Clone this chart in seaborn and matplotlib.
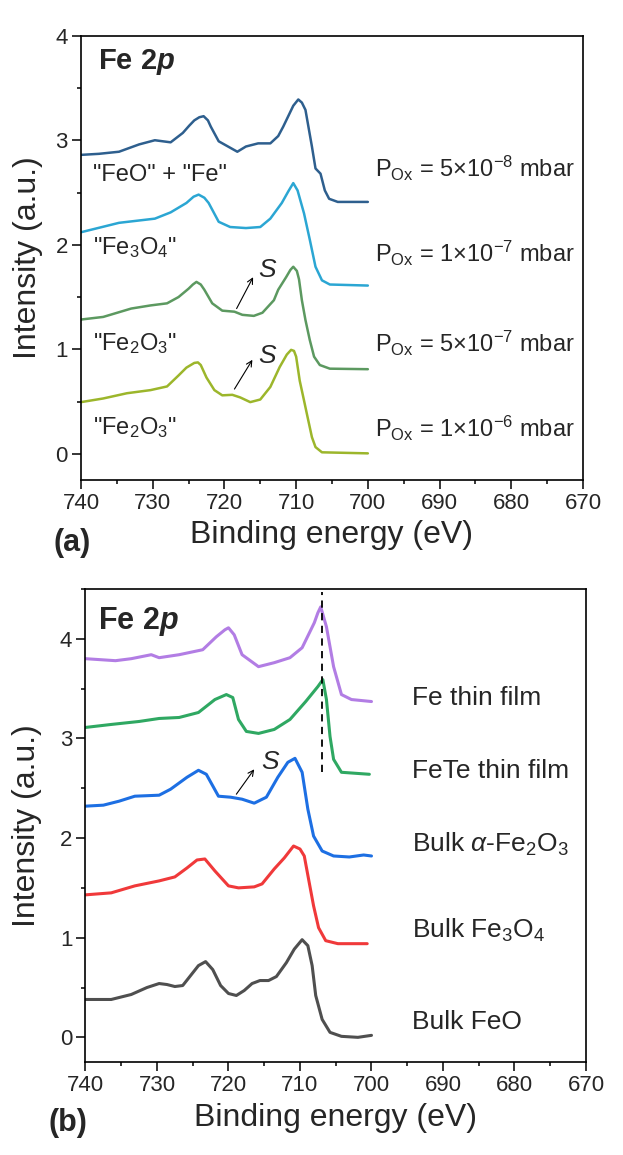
import matplotlib
matplotlib.use("Agg")
import matplotlib.pyplot as plt
import seaborn as sns
import pandas as pd
from matplotlib.ticker import MultipleLocator

# ---------------- data: panel (a) ----------------
e_a1 = [740, 737.5, 734.7, 731.9, 729.7, 727.5, 725.8, 724.9, 724.2, 723.5, 722.9, 722.3, 721.9, 720.8,
        719.5, 718.2, 717.0, 715.3, 713.6, 712.5, 711.8, 711.1, 710.4, 709.7, 709.2, 708.7, 707.8, 707.3,
        706.6, 706.0, 705.4, 704.2, 700.0]
i_a1 = [2.86, 2.87, 2.89, 2.96, 3.00, 2.98, 3.07, 3.14, 3.19, 3.22, 3.23, 3.19, 3.13, 2.99,
        2.94, 2.89, 2.94, 2.97, 2.97, 3.04, 3.13, 3.23, 3.33, 3.39, 3.36, 3.29, 2.94, 2.73,
        2.68, 2.52, 2.44, 2.41, 2.41]

e_a2 = [740, 734.7, 729.7, 727.5, 725.3, 724.3, 723.6, 722.8, 722.2, 720.8, 719.2, 717.0, 715.0, 713.6,
        712.0, 711.1, 710.4, 709.8, 708.9, 708.1, 707.3, 706.4, 705.3, 700.0]
i_a2 = [2.12, 2.21, 2.25, 2.31, 2.40, 2.46, 2.48, 2.45, 2.40, 2.22, 2.17, 2.16, 2.17, 2.25,
        2.40, 2.51, 2.59, 2.52, 2.30, 2.05, 1.79, 1.66, 1.62, 1.61]

e_a3 = [740, 736.9, 733.0, 730.3, 728.0, 726.4, 725.0, 724.4, 723.9, 723.3, 722.8, 721.7, 720.3, 718.6,
        717.5, 715.9, 714.7, 713.1, 712.5, 711.4, 710.8, 710.4, 709.9, 709.6, 709.2, 708.7, 708.1, 707.5,
        706.7, 705.3, 700.0]
i_a3 = [1.285, 1.31, 1.39, 1.42, 1.44, 1.50, 1.58, 1.62, 1.645, 1.62, 1.57, 1.44, 1.37, 1.36,
        1.33, 1.32, 1.35, 1.47, 1.57, 1.69, 1.76, 1.79, 1.75, 1.67, 1.47, 1.28, 1.09, 0.93,
        0.85, 0.815, 0.81]

e_a4 = [740, 736.9, 733.6, 730.3, 728.0, 726.4, 725.3, 724.2, 723.7, 723.3, 722.5, 721.4, 720.3, 718.9,
        717.8, 716.4, 715.0, 713.6, 712.3, 711.3, 710.7, 710.3, 710.0, 709.5, 708.9, 708.4, 707.8, 707.3,
        706.4, 700.0]
i_a4 = [0.495, 0.53, 0.58, 0.61, 0.645, 0.75, 0.825, 0.87, 0.875, 0.85, 0.73, 0.61, 0.56, 0.565,
        0.54, 0.495, 0.52, 0.64, 0.83, 0.95, 0.995, 0.985, 0.93, 0.70, 0.51, 0.35, 0.16, 0.065,
        0.015, 0.005]

colors_a = ["#2e5f8e", "#2ba6d3", "#5c9960", "#9cb62b"]
left_labels_a = ['"FeO" + "Fe"', '"Fe$_{3}$O$_{4}$"', '"Fe$_{2}$O$_{3}$"', '"Fe$_{2}$O$_{3}$"']
left_y_a = [2.67, 1.97, 1.06, 0.25]
pox_labels = [r'P$_{\mathrm{Ox}}$ = 5×10$^{\mathrm{-8}}$ mbar', r'P$_{\mathrm{Ox}}$ = 1×10$^{\mathrm{-7}}$ mbar',
              r'P$_{\mathrm{Ox}}$ = 5×10$^{\mathrm{-7}}$ mbar', r'P$_{\mathrm{Ox}}$ = 1×10$^{\mathrm{-6}}$ mbar']
pox_y = [2.73, 1.92, 1.06, 0.24]

# ---------------- data: panel (b) ----------------
e_b1 = [740, 735.8, 733.6, 730.8, 729.7, 726.9, 723.6, 721.7, 720.5, 720.0, 719.2, 718.1, 715.8, 713.6,
        711.4, 709.7, 708.0, 707.5, 707.1, 706.3, 705.3, 704.2, 702.8, 700.0]
i_b1 = [3.80, 3.78, 3.80, 3.84, 3.81, 3.84, 3.89, 4.02, 4.09, 4.11, 4.04, 3.84, 3.72, 3.76,
        3.81, 3.91, 4.16, 4.26, 4.32, 4.12, 3.72, 3.44, 3.39, 3.37]

e_b2 = [740, 736.4, 732.5, 729.7, 726.9, 724.2, 721.9, 720.3, 719.4, 718.6, 717.5, 715.8, 713.6, 711.4,
        709.2, 707.5, 706.8, 706.3, 705.8, 705.3, 704.2, 700.3]
i_b2 = [3.11, 3.14, 3.17, 3.20, 3.21, 3.26, 3.39, 3.44, 3.41, 3.19, 3.07, 3.05, 3.09, 3.19,
        3.37, 3.52, 3.59, 3.39, 3.02, 2.79, 2.66, 2.64]

e_b3 = [740, 737.5, 735.3, 733.1, 729.7, 728.1, 725.8, 724.2, 723.1, 721.4, 719.7, 718.1, 716.4, 714.7,
        713.1, 711.7, 710.7, 709.7, 708.9, 708.1, 706.9, 705.3, 703.1, 701.1, 700.0]
i_b3 = [2.32, 2.33, 2.37, 2.42, 2.43, 2.49, 2.61, 2.68, 2.64, 2.42, 2.41, 2.39, 2.35, 2.41,
        2.61, 2.76, 2.80, 2.66, 2.29, 2.02, 1.87, 1.82, 1.81, 1.83, 1.82]

e_b4 = [740, 736.4, 733.1, 729.7, 727.5, 725.8, 724.4, 723.3, 721.9, 720.0, 718.6, 716.4, 715.3, 713.6,
        712.2, 710.9, 710.0, 709.4, 708.7, 708.1, 707.4, 706.4, 704.7, 700.6]
i_b4 = [1.43, 1.45, 1.52, 1.57, 1.61, 1.70, 1.78, 1.79, 1.67, 1.52, 1.50, 1.51, 1.54, 1.69,
        1.80, 1.92, 1.89, 1.82, 1.55, 1.32, 1.10, 0.97, 0.94, 0.94]

e_b5 = [740, 736.4, 733.6, 731.4, 729.7, 728.6, 727.5, 726.4, 725.3, 724.2, 723.2, 722.2, 721.1, 720.0,
        718.9, 717.8, 716.7, 715.6, 714.4, 713.3, 711.9, 710.8, 709.7, 708.9, 708.3, 707.8, 706.9, 705.8,
        704.2, 701.9, 700.0]
i_b5 = [0.38, 0.38, 0.43, 0.50, 0.54, 0.53, 0.51, 0.52, 0.62, 0.72, 0.76, 0.68, 0.52, 0.44,
        0.42, 0.47, 0.54, 0.57, 0.57, 0.61, 0.75, 0.885, 0.98, 0.92, 0.72, 0.42, 0.18, 0.05,
        0.01, 0.00, 0.02]

colors_b = ["#b27de4", "#2fa862", "#1d6fe3", "#f0393a", "#4f4f4f"]
labels_b = ["Fe thin film", "FeTe thin film", r"Bulk $\alpha$-Fe$_{2}$O$_{3}$", "Bulk Fe$_{3}$O$_{4}$", "Bulk FeO"]
labels_b_y = [3.41, 2.67, 1.94, 1.07, 0.15]
dash_e = 706.9
dash_y = [2.66, 4.47]

x_ticks = [740, 730, 720, 710, 700, 690, 680, 670]

# ---------------- style ----------------
sns.set_style("ticks")
plt.rcParams["font.family"] = ["Liberation Sans", "DejaVu Sans"]
plt.rcParams["mathtext.fontset"] = "custom"
plt.rcParams["mathtext.rm"] = "Liberation Sans"
plt.rcParams["mathtext.it"] = "Liberation Sans:italic"
plt.rcParams["mathtext.bf"] = "Liberation Sans:bold"
plt.rcParams["mathtext.bfit"] = "Liberation Sans:italic:bold"
plt.rcParams["mathtext.sf"] = "Liberation Sans"
plt.rcParams["axes.unicode_minus"] = False

fig = plt.figure(figsize=(6.23, 11.55), dpi=100)
ax1 = fig.add_axes([0.1300, 0.5844, 0.8058, 0.3847])
ax2 = fig.add_axes([0.1372, 0.0803, 0.8034, 0.4098])


def style_axis(ax, ylim, xlab_y, ylab_x):
    ax.set_xlim(740, 670)
    ax.set_ylim(*ylim)
    ax.set_xticks(x_ticks)
    ax.xaxis.set_minor_locator(MultipleLocator(5))
    ax.yaxis.set_major_locator(MultipleLocator(1))
    ax.yaxis.set_minor_locator(MultipleLocator(0.5))
    ax.tick_params(which="major", direction="out", length=6.5, width=1.1, labelsize=16, pad=3, color="black")
    ax.tick_params(which="minor", direction="out", length=3, width=1.1, color="black")
    for s in ax.spines.values():
        s.set_visible(True)
        s.set_linewidth(1.2)
        s.set_color("black")
    ax.set_xlabel("Binding energy (eV)", fontsize=23)
    ax.set_ylabel("Intensity (a.u.)", fontsize=23)
    ax.xaxis.label.set_va("center")
    ax.yaxis.label.set_va("center")
    ax.xaxis.set_label_coords(0.5, xlab_y)
    ax.yaxis.set_label_coords(ylab_x, 0.5)
    ax.grid(False)


# ---------------- panel (a) ----------------
curves_a = [(e_a1, i_a1), (e_a2, i_a2), (e_a3, i_a3), (e_a4, i_a4)]
for (e, i), c in zip(curves_a, colors_a):
    df = pd.DataFrame({"E": e, "I": i})
    sns.lineplot(data=df, x="E", y="I", ax=ax1, color=c, lw=1.8, sort=False, estimator=None)

for lab, y in zip(left_labels_a, left_y_a):
    ax1.text(738.3, y, lab, fontsize=17, va="center", ha="left")
for lab, y in zip(pox_labels, pox_y):
    ax1.text(699.0, y, lab, fontsize=17, va="center", ha="left")

ax1.text(737.6, 3.745, r"Fe 2$\mathbfit{p}$", fontsize=21, fontweight="bold", va="center", ha="left")
for sy, (x0, y0, x1, y1) in [(1.76, (718.3, 1.39, 716.0, 1.69)), (0.94, (718.6, 0.62, 716.1, 0.90))]:
    ax1.text(714.1, sy, "S", fontsize=19, style="italic", va="center", ha="center")
    ax1.annotate("", xy=(x1, y1), xytext=(x0, y0),
                 arrowprops=dict(arrowstyle="->", lw=0.8, color="black", shrinkA=0, shrinkB=0))

style_axis(ax1, (-0.25, 4.0), -0.124, -0.106)

# ---------------- panel (b) ----------------
curves_b = [(e_b1, i_b1), (e_b2, i_b2), (e_b3, i_b3), (e_b4, i_b4), (e_b5, i_b5)]
for (e, i), c in zip(curves_b, colors_b):
    df = pd.DataFrame({"E": e, "I": i})
    sns.lineplot(data=df, x="E", y="I", ax=ax2, color=c, lw=2.2, sort=False, estimator=None)

ax2.plot([dash_e, dash_e], dash_y, ls=(0, (4, 3)), color="black", lw=1.3)

for lab, y in zip(labels_b, labels_b_y):
    ax2.text(694.4, y, lab, fontsize=19, va="center", ha="left")

ax2.text(738.2, 4.17, r"Fe 2$\mathbfit{p}$", fontsize=22, fontweight="bold", va="center", ha="left")
ax2.text(714.2, 2.76, "S", fontsize=19, style="italic", va="center", ha="center")
ax2.annotate("", xy=(716.4, 2.69), xytext=(718.9, 2.44),
             arrowprops=dict(arrowstyle="->", lw=0.8, color="black", shrinkA=0, shrinkB=0))

style_axis(ax2, (-0.25, 4.5), -0.118, -0.117)

fig.text(72 / 623, 1 - 543 / 1155, "(a)", fontsize=22, fontweight="bold", ha="center", va="center")
fig.text(68 / 623, 1 - 1123 / 1155, "(b)", fontsize=22, fontweight="bold", ha="center", va="center")

fig.savefig("out.png", dpi=100)
